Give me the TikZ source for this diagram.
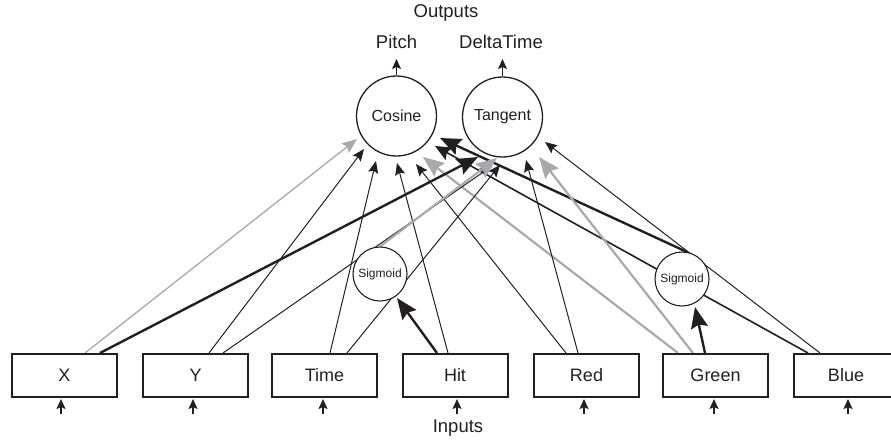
\documentclass[tikz,border=0pt]{standalone}
\usepackage{fontspec}
\setmainfont{Liberation Sans}
\usetikzlibrary{arrows.meta,calc,backgrounds}
\definecolor{ink}{HTML}{231F20}
\definecolor{lgray}{HTML}{A7A9AC}
\begin{document}
\begin{tikzpicture}[x=1pt,y=-1pt,
 inbox/.style={draw=ink,line width=2pt,fill=white,minimum width=105pt,minimum height=43pt,inner sep=0pt,font=\fontsize{18}{20}\selectfont,text=ink},
 bigc/.style={circle,draw=ink,line width=1.3pt,fill=white,minimum size=80pt,inner sep=0pt,font=\fontsize{16}{18}\selectfont,text=ink},
 sigc/.style={circle,draw=ink,line width=1.1pt,fill=white,minimum size=54pt,inner sep=0pt,font=\fontsize{12}{14}\selectfont,text=ink},
 lbl/.style={font=\fontsize{18.5}{20}\selectfont,text=ink,inner sep=0pt},
 thinarr/.style={draw=ink,line width=1pt,-{Stealth[length=12pt,width=10pt,inset=2pt]}},
 medarr/.style={draw=ink,line width=1.6pt,-{Stealth[length=16pt,width=14pt,inset=2.5pt]}},
 thickarr/.style={draw=ink,line width=2.4pt,-{Stealth[length=21pt,width=17pt,inset=3pt]}},
 grayarr/.style={draw=lgray,line width=2.2pt,-{Stealth[length=21pt,width=17pt,inset=3pt]}},
 graythin/.style={draw=lgray,line width=1.3pt,-{Stealth[length=15pt,width=12pt,inset=2.5pt]}},
 ioarr/.style={draw=ink,line width=1.4pt,-{Stealth[length=10pt,width=9pt,inset=2pt]}},
]
\useasboundingbox (0,0) rectangle (891,440);

% input boxes
\node[inbox] (X) at (64.5,375.5) {X};
\node[inbox] (Y) at (195.5,375.5) {Y};
\node[inbox] (Time) at (324.5,375.5) {Time};
\node[inbox] (Hit) at (455,375.5) {Hit};
\node[inbox] (Red) at (586.5,375.5) {Red};
\node[inbox] (Green) at (715.5,375.5) {Green};
\node[inbox] (Blue) at (846,375.5) {Blue};

% neurons
\node[bigc] (cos) at (396.5,116) {Cosine};
\node[bigc] (tan) at (502.5,117) {Tangent};
\node[sigc] (s1) at (380,274) {Sigmoid};
\node[sigc] (s2) at (682,279) {Sigmoid};

% labels
\node[lbl] (pitch) at (396.5,42) {Pitch};
\node[lbl] (dt) at (501,42) {DeltaTime};
\node[lbl] (outs) at (446,13) {Outputs};
\node[lbl] (ins) at (458,428) {Inputs};

% output arrows
\coordinate (pout) at (396.5,59);
\coordinate (dout) at (502.5,59);
\draw[ioarr] (cos.north) -- (pout);
\draw[ioarr] (tan.north) -- (dout);

% input arrows
\foreach \n/\dx in {X/-3.5,Y/-2.5,Time/-1.5,Hit/2,Red/-2.5,Green/-1.5,Blue/2}{
  \coordinate (\n in) at ($(\n.south)+(\dx,16)$);
  \draw[ioarr] (\n in) -- ++(0,-15);
}

\begin{scope}[on background layer]
% to Cosine
\draw[graythin] ($(X.north)+(20.5,0)$) -- ($(cos)+(-39.5,23)$);
\draw[thinarr] ($(Y.north)+(13.5,0)$) -- ($(cos)+(-32.5,33)$);
\draw[thinarr] ($(Time.north)+(5.5,0)$) -- ($(cos)+(-20.5,45)$);
\draw[thinarr] ($(Hit.north)+(-7,0)$) -- ($(cos)+(0.5,47)$);
\draw[thinarr] ($(Red.north)+(-20.5,0)$) -- ($(cos)+(19.5,48)$);
\draw[grayarr] ($(Green.north)+(-37.5,0)$) -- ($(cos)+(26.5,41)$);
\draw[medarr] ($(Blue.north)+(-38,0)$) -- ($(cos)+(38.5,30)$);
\draw[thickarr] (s2.80) -- ($(cos)+(43.5,22)$);
% to Tangent
\draw[thickarr] ($(X.north)+(35.5,0)$) -- ($(tan)+(-24.5,40)$);
\draw[thinarr] ($(Y.north)+(27.5,0)$) -- ($(tan)+(-10.5,49)$);
\draw[thinarr] ($(Time.north)+(22.5,0)$) -- ($(tan)+(-2.5,48)$);
\draw[grayarr] (s1.north) -- ($(tan)+(-5.5,41)$);
\draw[thinarr] ($(Red.north)+(-8.5,0)$) -- ($(tan)+(23.5,43)$);
\draw[grayarr] ($(Green.north)+(-22.5,0)$) -- ($(tan)+(36.5,40)$);
\draw[thinarr] ($(Blue.north)+(-26,0)$) -- ($(tan)+(42.5,25)$);
% to Sigmoids
\draw[thickarr] ($(Hit.north)+(-18,0)$) -- ($(s1)+(17,24)$);
\draw[thickarr] ($(Green.north)+(-10.5,0)$) -- ($(s2)+(13,28)$);
\end{scope}
\end{tikzpicture}
\end{document}
